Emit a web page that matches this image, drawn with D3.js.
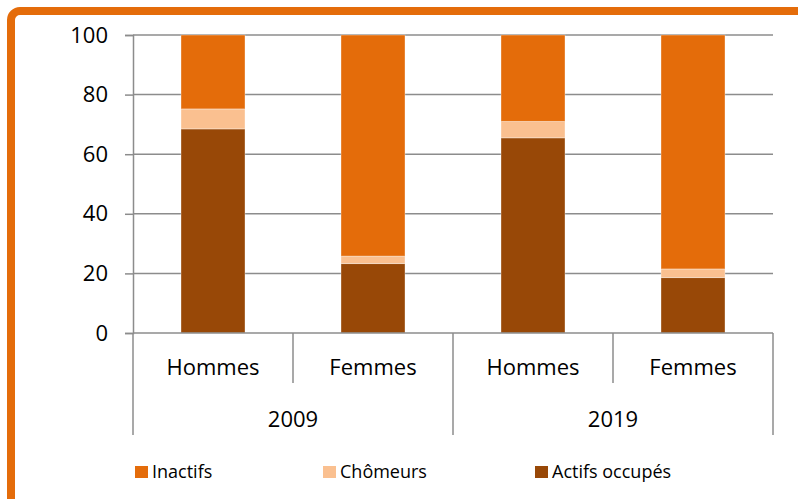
<!DOCTYPE html>
<html>
<head>
<meta charset="utf-8">
<script src="https://cdn.jsdelivr.net/npm/d3@7"></script>
<style>
  body { margin: 0; background: #fff; }
  svg { display: block; font-family: "Open Sans", sans-serif; }
</style>
</head>
<body>
<div id="wrapper"></div>
<script>
// data
const years = ["2009", "2019"]
const sexes = ["Hommes", "Femmes"]
const seriesNames = ["Actifs occupés", "Chômeurs", "Inactifs"]
const actifs   = [68.5, 23.3, 65.5, 18.6]
const chomeurs = [6.7, 2.5, 5.5, 2.9]
const inactifs = [24.8, 74.2, 29.0, 78.5]
const yTicks = [0, 20, 40, 60, 80, 100]
const legendOrder = ["Inactifs", "Chômeurs", "Actifs occupés"]

const colors = {
  "Inactifs": "#e46c0a",
  "Chômeurs": "#fac090",
  "Actifs occupés": "#984807",
}

function drawChart() {
  const dimensions = {
    width: 798,
    height: 499,
    margin: { top: 35, right: 25, bottom: 166, left: 133 },
  }
  dimensions.boundedWidth = dimensions.width - dimensions.margin.left - dimensions.margin.right
  dimensions.boundedHeight = dimensions.height - dimensions.margin.top - dimensions.margin.bottom

  // rows: one per bar
  const rows = []
  years.forEach((year, yi) => {
    sexes.forEach((sex, si) => {
      const i = yi * sexes.length + si
      rows.push({
        key: year + "-" + sex, year, sex,
        "Actifs occupés": actifs[i],
        "Chômeurs": chomeurs[i],
        "Inactifs": inactifs[i],
      })
    })
  })

  const stacked = d3.stack().keys(seriesNames)(rows)

  const svg = d3.select("#wrapper").append("svg")
      .attr("width", dimensions.width)
      .attr("height", dimensions.height)

  // orange frame (runs off the right and bottom of the picture)
  svg.append("rect")
      .attr("x", 11).attr("y", 11)
      .attr("width", 900).attr("height", 700)
      .attr("rx", 9)
      .attr("fill", "none")
      .attr("stroke", "#e46c0a")
      .attr("stroke-width", 8)

  const bounds = svg.append("g")
      .attr("transform", `translate(${dimensions.margin.left},${dimensions.margin.top})`)

  // scales
  const xScale = d3.scaleBand()
      .domain(rows.map(d => d.key))
      .range([0, dimensions.boundedWidth])
      .paddingInner(0.6)
      .paddingOuter(0.3)
  const bandStep = dimensions.boundedWidth / rows.length

  const yScale = d3.scaleLinear()
      .domain([0, 100])
      .range([dimensions.boundedHeight, 0])

  // gridlines
  bounds.append("g")
    .selectAll("line")
    .data(yTicks.filter(t => t > 0))
    .join("line")
      .attr("x1", 0).attr("x2", dimensions.boundedWidth)
      .attr("y1", d => yScale(d)).attr("y2", d => yScale(d))
      .attr("stroke", "#8c8c8c")
      .attr("stroke-width", 1.5)

  // bars
  bounds.append("g")
    .selectAll("g")
    .data(stacked)
    .join("g")
      .attr("fill", d => colors[d.key])
    .selectAll("rect")
    .data(d => d)
    .join("rect")
      .attr("x", d => xScale(d.data.key))
      .attr("width", xScale.bandwidth())
      .attr("y", d => yScale(d[1]))
      .attr("height", d => yScale(d[0]) - yScale(d[1]))
      .attr("stroke", "rgba(255,255,255,0.35)")
      .attr("stroke-width", 1)

  // y axis
  const yAxis = d3.axisLeft(yScale)
      .tickValues(yTicks)
      .tickSize(8)
      .tickPadding(17)
  const yAxisG = bounds.append("g").call(yAxis)
  yAxisG.select(".domain").attr("stroke", "#8c8c8c").attr("stroke-width", 1.5)
  yAxisG.selectAll(".tick line").attr("stroke", "#8c8c8c").attr("stroke-width", 1.5)
  yAxisG.selectAll(".tick text")
      .attr("font-size", 22)
      .attr("font-family", "Open Sans, sans-serif")
      .attr("fill", "#000")

  // category axis (two levels)
  const xAxisG = bounds.append("g")
      .attr("transform", `translate(0,${dimensions.boundedHeight})`)

  xAxisG.append("line")
      .attr("x1", 0).attr("x2", dimensions.boundedWidth)
      .attr("stroke", "#8c8c8c").attr("stroke-width", 1.5)

  // inner separators between sexes
  const innerSeps = years.map((y, yi) => (yi * sexes.length + 1) * bandStep)
  xAxisG.selectAll(".inner-sep")
    .data(innerSeps)
    .join("line")
      .attr("class", "inner-sep")
      .attr("x1", d => d).attr("x2", d => d)
      .attr("y1", 0).attr("y2", 50)
      .attr("stroke", "#8c8c8c").attr("stroke-width", 1.5)

  // outer separators between years
  const outerSeps = d3.range(years.length + 1).map(i => i * sexes.length * bandStep)
  xAxisG.selectAll(".outer-sep")
    .data(outerSeps)
    .join("line")
      .attr("class", "outer-sep")
      .attr("x1", d => d).attr("x2", d => d)
      .attr("y1", 0).attr("y2", 102)
      .attr("stroke", "#8c8c8c").attr("stroke-width", 1.5)

  xAxisG.selectAll(".sex-label")
    .data(rows)
    .join("text")
      .attr("class", "sex-label")
      .attr("x", d => xScale(d.key) + xScale.bandwidth() / 2)
      .attr("y", 42)
      .attr("text-anchor", "middle")
      .attr("font-size", 22)
      .text(d => d.sex)

  xAxisG.selectAll(".year-label")
    .data(years)
    .join("text")
      .attr("class", "year-label")
      .attr("x", (d, i) => (i + 0.5) * sexes.length * bandStep)
      .attr("y", 94)
      .attr("text-anchor", "middle")
      .attr("font-size", 22)
      .text(d => d)

  // legend
  const legendX = [135, 323, 535]
  const legend = svg.append("g")
    .selectAll("g")
    .data(legendOrder)
    .join("g")
      .attr("transform", (d, i) => `translate(${legendX[i]},466)`)
  legend.append("rect")
      .attr("width", 13).attr("height", 12)
      .attr("fill", d => colors[d])
  legend.append("text")
      .attr("x", 17)
      .attr("y", 12)
      .attr("font-size", 18)
      .text(d => d)
}

drawChart()
</script>
</body>
</html>
